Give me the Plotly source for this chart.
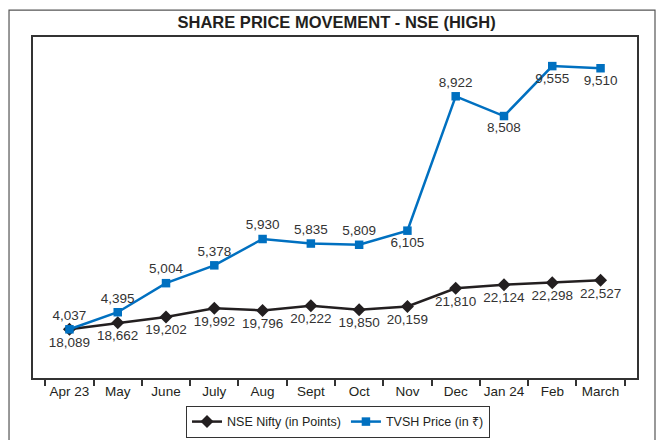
import plotly.graph_objects as go

months = ["Apr 23", "May", "June", "July", "Aug", "Sept", "Oct", "Nov", "Dec", "Jan 24", "Feb", "March"]
nifty = [18089, 18662, 19202, 19992, 19796, 20222, 19850, 20159, 21810, 22124, 22298, 22527]
tvsh = [4037, 4395, 5004, 5378, 5930, 5835, 5809, 6105, 8922, 8508, 9555, 9510]
tvsh_pos = ["top center"] * 7 + ["bottom center", "top center", "bottom center", "bottom center", "bottom center"]

FONT = "Liberation Sans, Arial, sans-serif"

fig = go.Figure()
fig.add_trace(go.Scatter(
    x=months, y=nifty, name="NSE Nifty (in Points)", yaxis="y",
    mode="lines+markers+text",
    line=dict(color="#231F20", width=2.5),
    marker=dict(symbol="diamond", size=10, color="#231F20"),
    text=[f"{v:,}" for v in nifty], textposition="bottom center",
    textfont=dict(family=FONT, size=13.5, color="#333333"),
))
fig.add_trace(go.Scatter(
    x=months, y=tvsh, name="TVSH Price (in ₹)", yaxis="y2",
    mode="lines+markers+text",
    line=dict(color="#0070C0", width=2.5),
    marker=dict(symbol="square", size=8.5, color="#0070C0"),
    text=[f"{v:,}" for v in tvsh], textposition=tvsh_pos,
    textfont=dict(family=FONT, size=13.5, color="#333333"),
))

fig.update_layout(
    width=660, height=440,
    margin=dict(l=33, r=23, t=37, b=62, autoexpand=False),
    paper_bgcolor="white", plot_bgcolor="white",
    title=dict(text="<b>SHARE PRICE MOVEMENT - NSE (HIGH)</b>", x=0.51, xanchor="center",
               y=1 - 22 / 440, yanchor="middle",
               font=dict(family=FONT, size=16.5, color="#231F20")),
    xaxis=dict(type="category", showline=True, linecolor="#333333", linewidth=1.5, mirror=True,
               ticks="outside", tickson="boundaries", ticklen=6, tickcolor="#333333", tickwidth=1.5,
               tickangle=0, automargin=False,
               showgrid=False, tickfont=dict(family=FONT, size=13.5, color="#231F20")),
    yaxis=dict(range=[13650, 44650], showline=True, linecolor="#333333", linewidth=1.5, mirror=True,
               showticklabels=False, showgrid=False, zeroline=False, ticks="", automargin=False),
    yaxis2=dict(range=[3016, 10165], overlaying="y", side="right", showline=False,
                showticklabels=False, showgrid=False, zeroline=False, ticks="", automargin=False),
    legend=dict(orientation="h", x=0.505, xanchor="center", y=-0.082, yanchor="top",
                bordercolor="#333333", borderwidth=1,
                font=dict(family=FONT, size=12.5, color="#231F20")),
    showlegend=True,
)
fig.add_shape(type="rect", xref="paper", yref="paper", x0=-0.0397, x1=1.0298, y0=-0.3, y1=1.079,
              line=dict(color="#555555", width=1.2), layer="below")

fig.write_html("out.html", config={"displayModeBar": False},
               post_script="document.body.style.margin='0';")
